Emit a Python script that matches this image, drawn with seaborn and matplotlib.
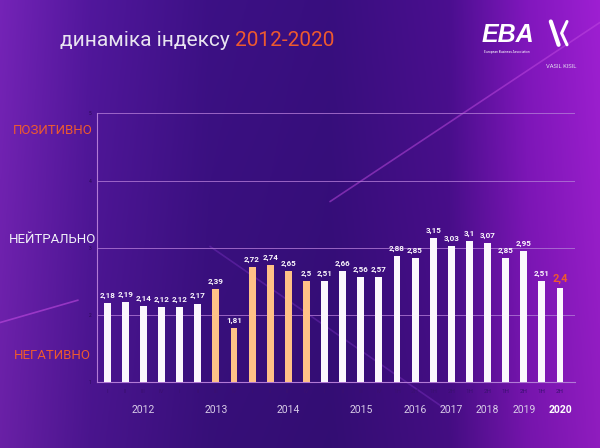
import numpy as np
import pandas as pd
import matplotlib
matplotlib.use('Agg')
import matplotlib.pyplot as plt
from matplotlib.lines import Line2D
import seaborn as sns

# Data
periods = ['I', 'II', 'III', 'IV'] * 4 + ['1H', '2H'] * 5
years = ['2012'] * 4 + ['2013'] * 4 + ['2014'] * 4 + ['2015'] * 4 + \
        ['2016'] * 2 + ['2017'] * 2 + ['2018'] * 2 + ['2019'] * 2 + ['2020'] * 2
values = [2.18, 2.19, 2.14, 2.12,
          2.12, 2.17, 2.39, 1.81,
          2.72, 2.74, 2.65, 2.5,
          2.51, 2.66, 2.56, 2.57,
          2.88, 2.85, 3.15, 3.03, 3.1, 3.07, 2.85, 2.95, 2.51, 2.4]
highlight = [False] * 6 + [True] * 6 + [False] * 14
year_labels = ['2012', '2013', '2014', '2015', '2016', '2017', '2018', '2019', '2020']
mood_labels = ['НЕГАТИВНО', 'НЕЙТРАЛЬНО', 'ПОЗИТИВНО']
mood_levels = [1.4, 3.13, 4.75]

WHITE = '#fbf7fd'
PEACH = '#ffc187'
ORANGE = '#ee5a2e'

df = pd.DataFrame({'period': periods, 'year': years, 'value': values})
df['key'] = df['year'] + ' ' + df['period']
pal = {k: (PEACH if h else WHITE) for k, h in zip(df['key'], highlight)}

sns.set_style('white')
plt.rcParams['font.family'] = ['Roboto', 'DejaVu Sans']

fig = plt.figure(figsize=(6, 4.48), dpi=100)

# background gradient
bg = fig.add_axes([0, 0, 1, 1], zorder=-10)
xs = np.linspace(0, 1, 300)
stops = [0.0, 0.15, 0.35, 0.55, 0.75, 0.88, 1.0]
cols = np.array([[0x70, 0x22, 0xb0], [0x4e, 0x16, 0x96], [0x3a, 0x10, 0x80],
                 [0x36, 0x0e, 0x7a], [0x48, 0x0e, 0x8a], [0x7c, 0x16, 0xb6],
                 [0x98, 0x1e, 0xca]]) / 255.0
row = np.stack([np.interp(xs, stops, cols[:, i]) for i in range(3)], axis=1)
ys = np.linspace(0, 1, 224)[:, None, None]
img = row[None, :, :] * (0.94 + 0.1 * ys)
bg.imshow(np.clip(img, 0, 1), aspect='auto', extent=[0, 1, 0, 1], origin='lower')
bg.set_axis_off()
# decorative diagonal streaks
for (x0, y0, x1, y1, c, a) in [(0.55, 0.55, 1.0, 0.95, '#c04ae0', 0.5),
                               (0.0, 0.28, 0.13, 0.33, '#c04ae0', 0.6),
                               (0.35, 0.45, 0.75, 0.08, '#8a3ad0', 0.35)]:
    fig.add_artist(Line2D([x0, x1], [y0, y1], color=c, alpha=a, lw=1.2,
                          transform=fig.transFigure, zorder=-5))

ax = fig.add_axes([0.162, 0.147, 0.797, 0.600])
ax.set_facecolor('none')
sns.barplot(data=df, x='key', y='value', hue='key', palette=pal, legend=False,
            width=0.38, saturation=1, linewidth=0, ax=ax, zorder=3)
ax.set_ylim(1, 5)
ax.set_xlim(-0.55, len(values) - 0.15)
ax.set_yticks([1, 2, 3, 4, 5])
ax.set_yticklabels(['1', '2', '3', '4', '5'], fontsize=3.5, color='#2a0a55')
ax.set_xticks(range(len(values)))
ax.set_xticklabels(periods, fontsize=4.5, color='#3a1070')
ax.tick_params(axis='x', length=0, pad=5)
ax.tick_params(axis='y', length=0, pad=4)
ax.set_xlabel('')
ax.set_ylabel('')
for s in ['top', 'right']:
    ax.spines[s].set_visible(False)
for s in ['left', 'bottom']:
    ax.spines[s].set_color('#b27ad6')
    ax.spines[s].set_linewidth(0.8)
ax.grid(False)
for lev in [2, 3, 4, 5]:
    ax.axhline(lev, color='#b27ad6', lw=0.7, alpha=0.8, zorder=1)

# value labels
for i, v in enumerate(values):
    last = i == len(values) - 1
    ax.text(i, v + 0.06, f'{v:g}'.replace('.', ','), ha='center', va='bottom',
            fontsize=8 if last else 5.8, fontweight='bold',
            color=ORANGE if last else WHITE)

# year labels under groups
trans = ax.get_xaxis_transform()
pos = 0
for y in year_labels:
    n = years.count(y)
    c = pos + (n - 1) / 2 + 0.5
    ax.text(c, -0.105, y, transform=trans, ha='center', va='center',
            fontsize=7.5, color='white' if y == '2020' else '#d8cce8',
            fontweight='bold' if y == '2020' else 'normal')
    pos += n

# mood labels on the left
for lab, lev in zip(mood_labels, mood_levels):
    fig.text(0.088, ax.transData.transform((0, lev))[1] / fig.bbox.height, lab,
             ha='center', va='center', fontsize=9.5,
             color='#f0f0f8' if lab == 'НЕЙТРАЛЬНО' else ORANGE)

# title
t1 = fig.text(0.1, 0.91, 'динаміка індексу ', fontsize=15, color='#e8e4f0',
              ha='left', va='center')
fig.canvas.draw()
bb = t1.get_window_extent()
fig.text(bb.x1 / fig.bbox.width, 0.91, '2012-2020', fontsize=15, color=ORANGE,
         ha='left', va='center')

# logos
fig.text(0.803, 0.922, 'EBA', fontsize=18, fontweight='bold', fontstyle='italic',
         color='white', ha='left', va='center', family=['Liberation Sans', 'DejaVu Sans'])
fig.text(0.806, 0.884, 'European Business Association', fontsize=2.3, color='white',
         ha='left', va='center')
fig.add_artist(Line2D([0.918, 0.931], [0.952, 0.900], color='white', lw=3,
                      transform=fig.transFigure))
fig.add_artist(Line2D([0.945, 0.936, 0.945], [0.952, 0.926, 0.900], color='white', lw=2.2,
                      transform=fig.transFigure))
fig.text(0.935, 0.852, 'VASIL KISIL', fontsize=4.2, color='#e0d8ee', ha='center', va='center')

fig.savefig('out.png', dpi=100)
